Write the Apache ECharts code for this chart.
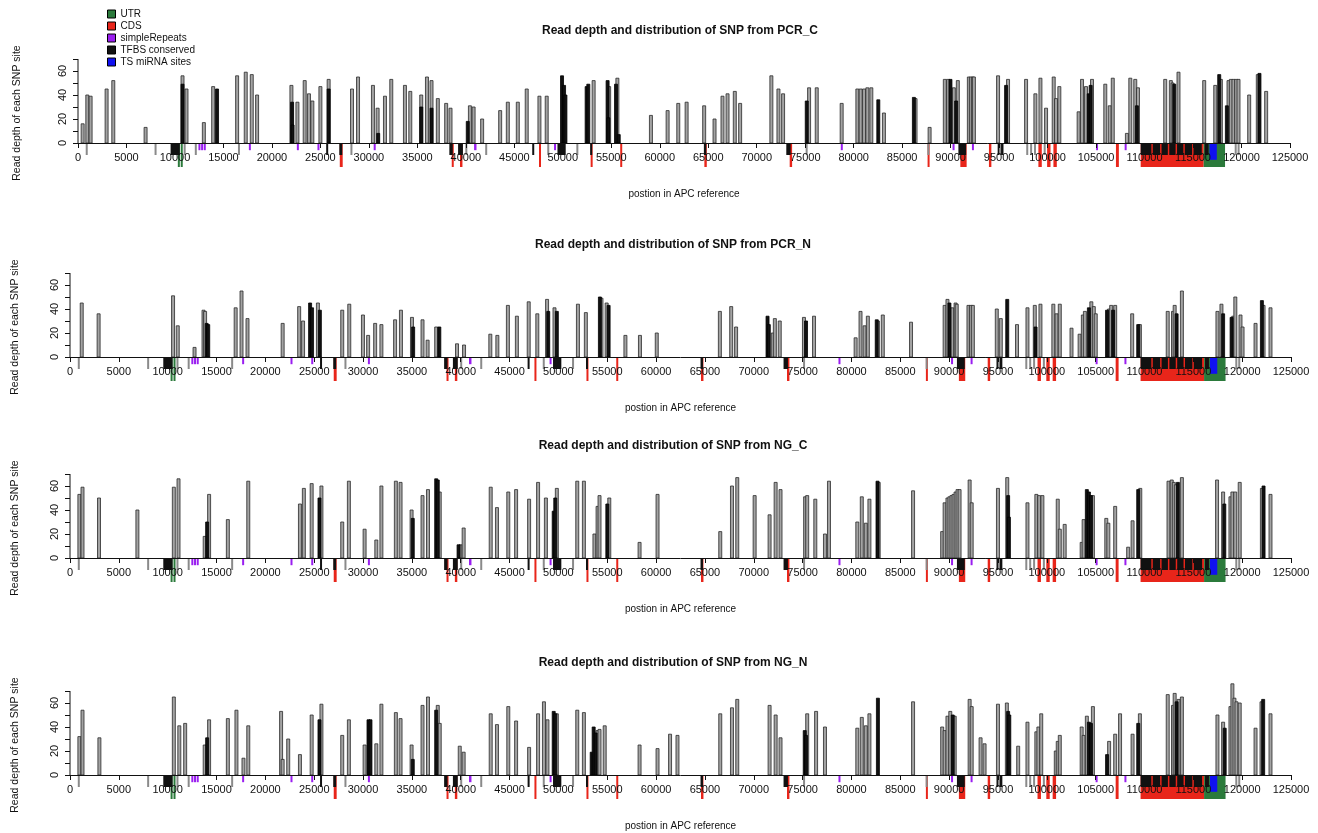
<!DOCTYPE html>
<html>
<head>
<meta charset="utf-8">
<script src="https://cdn.jsdelivr.net/npm/echarts@6/dist/echarts.min.js"></script>
<style>html,body{margin:0;padding:0;background:#fff}#c{width:1318px;height:833px}</style>
</head>
<body>
<div id="c"></div>
<script>
// ---------- DATA ----------
const titles = [
  'Read depth and distribution of SNP from PCR_C',
  'Read depth and distribution of SNP from PCR_N',
  'Read depth and distribution of SNP from NG_C',
  'Read depth and distribution of SNP from NG_N'
];
const xTitle = 'postion in APC reference';
const yTitle = 'Read depth of each SNP site';
const legendNames = ['UTR', 'CDS', 'simpleRepeats', 'TFBS conserved', 'TS miRNA sites'];
const yTickValues = [0, 10, 20, 30, 40, 50, 60, 70];
const yLabelValues = [0, 20, 40, 60];

// SNP [position, read depth]
const pcrC_grey = [[480,16],[960,40],[1300,39],[2950,45],[3640,52],[6970,13],[10780,56],[11190,45],[12980,17],[13940,47],[16410,56],[17300,59],[17920,57],[18470,40],[22010,48],[22630,34],[23380,52],[23820,41],[24170,35],[25000,47],[25850,53],[28260,45],[28880,55],[30420,48],[30900,29],[31660,39],[32310,53],[33720,48],[34270,43],[35400,40],[35990,55],[36460,52],[37110,37],[37970,33],[38420,29],[40420,31],[40800,30],[41680,20],[43540,27],[44330,34],[45360,34],[46280,45],[47590,39],[48340,39],[53180,52],[54780,47],[55630,54],[59090,23],[60810,27],[61910,33],[62770,34],[64580,31],[65650,20],[66470,39],[66990,41],[67740,43],[68290,33],[71510,56],[72240,45],[72720,41],[75400,46],[76190,46],[78760,33],[80380,45],[80720,45],[81070,45],[81410,46],[81820,46],[83120,25],[86380,37],[87830,13],[89400,53],[89740,53],[90330,46],[90740,52],[91880,55],[92090,55],[92290,55],[92400,55],[94890,56],[95920,53],[97780,53],[98740,41],[99260,54],[99840,29],[100630,55],[100870,37],[101210,47],[103200,26],[103550,53],[103960,47],[104580,53],[105950,49],[106410,31],[106720,54],[108180,8],[108530,54],[109040,53],[109320,46],[112130,53],[112710,52],[112890,50],[113500,59],[116150,52],[117290,48],[117870,53],[118660,52],[118900,53],[119170,53],[119450,53],[119690,53],[120790,40],[121680,57],[122540,43]];
const pcrC_black = [[10780,49],[14340,45],[22080,34],[22130,15],[25850,45],[30960,8],[35400,30],[36460,29],[40200,18],[49920,56],[50130,48],[50270,40],[52460,47],[52630,49],[54620,52],[54700,21],[55490,49],[55770,7],[75160,35],[82540,36],[86210,38],[89980,53],[90570,35],[95720,48],[104240,41],[104440,48],[109210,31],[113060,49],[117700,57],[118490,31],[121850,58]];

const pcrN_grey = [[1200,45],[2930,36],[10550,51],[11030,26],[12750,8],[13670,39],[13830,38],[16960,41],[17560,55],[18170,32],[21770,28],[23460,42],[23860,30],[25380,45],[27870,39],[28590,44],[29990,35],[30520,18],[31240,28],[31880,27],[33280,31],[33880,39],[35010,33],[36090,31],[36610,14],[37490,25],[39620,11],[40340,10],[43030,19],[43750,18],[44830,43],[45750,34],[46960,46],[47840,36],[48840,48],[49600,41],[52000,44],[52810,37],[54410,49],[54940,45],[56860,18],[58350,18],[60070,20],[66530,38],[67690,42],[68190,25],[71950,20],[72160,32],[72660,30],[75140,33],[76170,34],[80430,16],[80930,38],[81350,26],[81680,34],[82710,30],[83210,35],[86100,29],[89540,43],[89830,48],[90320,41],[90660,45],[90780,44],[91980,43],[92230,43],[92430,43],[94880,40],[95290,32],[96950,27],[98020,41],[98770,43],[99350,44],[100670,44],[101000,36],[101330,44],[102530,24],[103360,19],[103690,35],[103900,38],[104560,46],[104810,42],[105010,36],[106380,40],[106590,43],[107000,43],[108740,36],[109530,27],[112380,38],[112920,38],[113090,43],[113830,55],[117470,38],[117880,44],[119090,34],[119300,50],[119830,35],[120040,25],[121370,28],[122190,43],[122900,41]];
const pcrN_black = [[13990,28],[14150,27],[24580,45],[24780,41],[25580,39],[35130,25],[37810,25],[48960,38],[49840,38],[54250,50],[55140,43],[71410,34],[71540,27],[75350,30],[82590,31],[90030,45],[95950,48],[98850,25],[104310,41],[106170,39],[106790,39],[109360,27],[113290,36],[118050,36],[118920,33],[122020,47]];

const ngC_grey = [[960,53],[1280,59],[2970,50],[6900,40],[10630,59],[11110,66],[13790,18],[14240,53],[16160,32],[18250,64],[23540,45],[23940,58],[24740,62],[25740,60],[27870,30],[28550,64],[30160,24],[31360,15],[31880,60],[33360,64],[33840,63],[34970,40],[36090,52],[36650,57],[37850,55],[39980,11],[40300,25],[43070,59],[43710,42],[44870,55],[45670,57],[47000,49],[47920,63],[48720,50],[49840,58],[51930,64],[52610,64],[53690,20],[54010,43],[54210,52],[55210,50],[58310,13],[60150,53],[66570,22],[67770,60],[68310,67],[70090,52],[71620,36],[72240,63],[72740,57],[75260,51],[75470,52],[76300,49],[77290,20],[77700,64],[80600,30],[81060,51],[81470,29],[81840,49],[82790,63],[86310,56],[89290,22],[89540,46],[89830,50],[90030,51],[90240,52],[90450,53],[90660,55],[90860,57],[91070,57],[92100,65],[92310,46],[95000,58],[95950,67],[98020,46],[98930,53],[99220,52],[99550,52],[101120,49],[101330,24],[101830,28],[103570,13],[103770,32],[104720,52],[106090,33],[106300,29],[107000,43],[108330,9],[108780,31],[109570,58],[112460,64],[112790,65],[113000,63],[113210,61],[113830,67],[117430,65],[118050,55],[118800,51],[119000,55],[119290,55],[119750,63],[122020,58],[122900,53]];
const ngC_black = [[14040,30],[25540,50],[35090,33],[37490,66],[37650,65],[39780,11],[49520,39],[49680,50],[55010,45],[82670,64],[96040,52],[96120,34],[104100,57],[104310,55],[104520,52],[109360,57],[113420,63],[118170,45],[122190,60]];

const ngN_grey = [[960,32],[1280,54],[3010,31],[10630,65],[11190,41],[11790,43],[13790,25],[14240,46],[16160,47],[17040,54],[17760,14],[18250,41],[21610,53],[21770,13],[22340,30],[23540,17],[24740,50],[25740,59],[27870,33],[28550,46],[30160,25],[31360,26],[31880,59],[33360,52],[33840,47],[34970,25],[36090,58],[36650,65],[37650,58],[37850,43],[39900,24],[40300,19],[43070,51],[43710,42],[44870,57],[45670,45],[47000,23],[47920,51],[48520,61],[48880,46],[49840,51],[51930,54],[52610,52],[54010,37],[54210,38],[54740,41],[58310,25],[60150,22],[61430,34],[62190,33],[66570,51],[67770,56],[68310,63],[71620,58],[72240,50],[72740,31],[75470,51],[76380,53],[77290,40],[80600,39],[81060,48],[81470,41],[81840,51],[86310,61],[89290,40],[89540,37],[89830,49],[90120,53],[90570,49],[92100,63],[92310,57],[93220,31],[93630,26],[95000,59],[95910,60],[97070,24],[98020,44],[98930,36],[99140,40],[99430,51],[100920,20],[101120,28],[101330,33],[103570,40],[103770,33],[104100,49],[104720,57],[106380,28],[107000,34],[107500,51],[108780,34],[109530,51],[112380,67],[112920,58],[113090,68],[113500,63],[113830,65],[117470,50],[118050,44],[118800,57],[119000,76],[119210,64],[119420,61],[119750,60],[121370,39],[121980,61],[122900,51]];
const ngN_black = [[14040,31],[25540,46],[30560,46],[30760,46],[35090,13],[37490,54],[49520,53],[49680,51],[53410,19],[53610,40],[53810,35],[75220,37],[75350,33],[82710,64],[90370,50],[96040,53],[96160,50],[104310,44],[104520,43],[106170,17],[109360,43],[113290,61],[118210,39],[122150,63]];

// Annotation features of the APC reference [start, end]
const annoCDS = [[27000,27300],[38550,38750],[39400,39650],[47550,47750],[52900,53050],[55950,56100],[64600,64850],[73400,73650],[87650,87800],[91000,91650],[93950,94200],[99050,99400],[99950,100300],[100600,100950],[107050,107350],[109600,116100]];
const annoUTR = [[10350,10450],[10650,10750],[116100,118300]];
const annoMiRNA = [[116700,117450]];
const annoTFBS = [[9550,10500],[25650,25750],[26950,27250],[38300,38650],[39200,39700],[46850,47050],[49450,50300],[52850,53000],[64550,64800],[73050,73500],[90800,91600],[94850,95450],[109600,110700],[110850,111600],[111750,112400],[112550,113200],[113350,114000],[114150,114900],[115050,115900],[116200,116600]];
const annoRepeats = [[12450,12600],[12750,12850],[13000,13150],[17650,17800],[22600,22750],[24700,24900],[30550,30650],[40850,41100],[49100,49300],[78700,78850],[90200,90400],[92250,92350],[105000,105200],[108000,108100]];
const annoOther = [[900,900],[8000,8000],[11000,11000],[12150,12150],[16600,16600],[28200,28200],[40050,40050],[42100,42100],[48500,48500],[51500,51500],[75150,75150],[87700,87700],[95100,95100],[97900,97900],[98300,98300],[98700,98700],[99700,99700],[119400,119400],[119700,119700]];

// ---------- CHART ----------
const FONT = '"Liberation Sans", Arial, sans-serif';
const panelData = [
  [pcrC_grey, pcrC_black],
  [pcrN_grey, pcrN_black],
  [ngC_grey, ngC_black],
  [ngN_grey, ngN_black]
];
const layout = [
  {left: 78, width: 1212, zero: 143, titleX: 675, nameGap: 55},
  {left: 70, width: 1221, zero: 357, titleX: 668, nameGap: 49},
  {left: 70, width: 1221, zero: 558, titleX: 668, nameGap: 49},
  {left: 70, width: 1221, zero: 775, titleX: 668, nameGap: 49}
];
const Y_MIN = -30, Y_MAX = 80, PX_PER_UNIT = 1.2;
const BELOW = -Y_MIN * PX_PER_UNIT; // px between zero line and grid bottom

const annoTypes = [
  {name: 'CDS', data: annoCDS, color: '#e8251a', depth: 20},
  {name: 'UTR', data: annoUTR, color: '#2b7a3b', depth: 20},
  {name: 'TS miRNA sites', data: annoMiRNA, color: '#1010f0', depth: 14},
  {name: 'TFBS conserved', data: annoTFBS, color: '#111111', depth: 10},
  {name: 'simpleRepeats', data: annoRepeats, color: '#9a1ef0', depth: 6},
  {name: 'other', data: annoOther, color: '#8a8a8a', depth: 10}
];

function annoRender(depth, color) {
  return function (params, api) {
    const a = api.coord([api.value(0), 0]);
    const b = api.coord([api.value(1), -depth]);
    let w = b[0] - a[0];
    let x = a[0];
    if (w < 2) { x = (a[0] + b[0]) / 2 - 1; w = 2; }
    return {type: 'rect', shape: {x: x, y: a[1], width: w, height: b[1] - a[1]},
      style: {fill: color}};
  };
}
function snpRender(fill, stroke) {
  return function (params, api) {
    const p0 = api.coord([api.value(0), 0]);
    const p1 = api.coord([api.value(0), api.value(1)]);
    return {type: 'rect', shape: {x: p0[0] - 1.5, y: p1[1], width: 3, height: p0[1] - p1[1]},
      style: {fill: fill, stroke: stroke, lineWidth: 0.8}};
  };
}

const grids = [], xAxes = [], yAxes = [], series = [], titleOpts = [];
layout.forEach((L, i) => {
  const top = L.zero - (Y_MAX) * PX_PER_UNIT;
  const height = (Y_MAX - Y_MIN) * PX_PER_UNIT;
  grids.push({left: L.left, width: L.width, top: top, height: height, outerBoundsMode: 'none'});
  titleOpts.push({text: titles[i], left: L.titleX, top: L.zero - 123, textAlign: 'center',
    textStyle: {fontSize: 12, fontWeight: 'bold', color: '#111', fontFamily: FONT}});
  xAxes.push({
    gridIndex: i, type: 'value', min: 0, max: 125000, interval: 5000, z: 5,
    axisLine: {show: true, onZero: true, lineStyle: {color: '#111', width: 1}},
    axisTick: {show: true, length: 5, lineStyle: {color: '#111'}},
    axisLabel: {fontSize: 11, color: '#111', margin: 9 - BELOW, fontFamily: FONT, hideOverlap: false,
      showMinLabel: true, showMaxLabel: true, formatter: v => String(v)},
    splitLine: {show: false},
    name: xTitle, nameLocation: 'middle', nameGap: 46 - BELOW,
    nameTextStyle: {fontSize: 10, color: '#111', fontFamily: FONT}
  });
  yAxes.push({
    gridIndex: i, type: 'value', min: Y_MIN, max: Y_MAX, interval: 10,
    axisLine: {show: false},
    axisTick: {show: true, length: 5, customValues: yTickValues, lineStyle: {color: '#111'}},
    axisLabel: {customValues: yLabelValues, rotate: 90, fontSize: 11, color: '#111', margin: 10, fontFamily: FONT,
      formatter: v => (yLabelValues.indexOf(v) >= 0 ? String(v) : '')},
    splitLine: {show: false},
    name: yTitle, nameLocation: 'middle', nameGap: L.nameGap,
    nameTextStyle: {fontSize: 10.5, color: '#111', fontFamily: FONT}
  });
  annoTypes.forEach(t => {
    series.push({
      type: 'custom', name: t.name, xAxisIndex: i, yAxisIndex: i,
      data: t.data, encode: {x: [0, 1]}, itemStyle: {color: t.color},
      renderItem: annoRender(t.depth, t.color), silent: true
    });
  });
  // y axis line, 0..70
  series.push({
    type: 'custom', xAxisIndex: i, yAxisIndex: i, silent: true,
    data: [[0, 0, 70]], encode: {x: 0, y: [1, 2]},
    renderItem: function (params, api) {
      const a = api.coord([api.value(0), api.value(1)]);
      const b = api.coord([api.value(0), api.value(2)]);
      return {type: 'line', shape: {x1: a[0], y1: a[1], x2: b[0], y2: b[1]}, style: {stroke: '#111', lineWidth: 1}};
    }
  });
  series.push({
    type: 'custom', name: 'snp', xAxisIndex: i, yAxisIndex: i, silent: true,
    data: panelData[i][0], encode: {x: 0, y: 1},
    renderItem: snpRender('#a3a3a3', '#2a2a2a')
  });
  series.push({
    type: 'custom', name: 'snpTFBS', xAxisIndex: i, yAxisIndex: i, silent: true,
    data: panelData[i][1], encode: {x: 0, y: 1},
    renderItem: snpRender('#111111', '#000000')
  });
});

const chart = echarts.init(document.getElementById('c'), null, {renderer: 'canvas'});
chart.setOption({
  animation: false,
  backgroundColor: '#ffffff',
  textStyle: {fontFamily: FONT},
  title: titleOpts,
  legend: {
    data: legendNames, orient: 'vertical', left: 107, top: 8, padding: 0,
    itemWidth: 8, itemHeight: 8, itemGap: 0, icon: 'rect', selectedMode: false,
    itemStyle: {borderColor: '#000', borderWidth: 1},
    textStyle: {fontSize: 10, color: '#111', lineHeight: 12, fontFamily: FONT}
  },
  grid: grids, xAxis: xAxes, yAxis: yAxes, series: series
});
</script>
</body>
</html>
